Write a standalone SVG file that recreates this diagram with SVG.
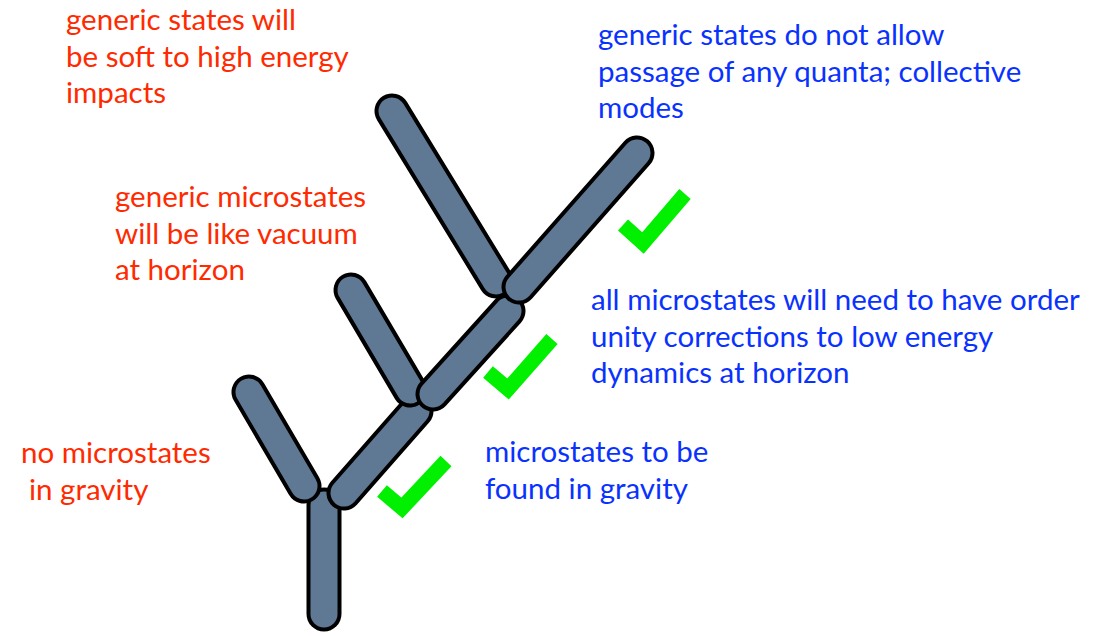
<svg xmlns="http://www.w3.org/2000/svg" width="1109" height="636" viewBox="0 0 1109 636">
<style>
.o{stroke:#000;stroke-width:35;stroke-linecap:round;fill:none}
.f{stroke:#5f7894;stroke-width:27;stroke-linecap:round;fill:none}
.chk{stroke:#00f000;stroke-width:15;fill:none;stroke-linejoin:miter;stroke-linecap:butt}
text{font-family:Lato,"Liberation Sans",sans-serif;font-size:29.5px}
.r{fill:#ff2a00}
.b{fill:#0a32ff}
</style>
<rect width="1109" height="636" fill="#fff"/>
<g id="connectors">
<g id="trunk"><line class="o" x1="324" y1="505" x2="324" y2="614"/><line class="f" x1="324" y1="505" x2="324" y2="614"/></g>
<g id="lower-left"><line class="o" x1="249" y1="392" x2="304" y2="486"/><line class="f" x1="249" y1="392" x2="304" y2="486"/></g>
<g id="lower-right"><line class="o" x1="344" y1="493" x2="416" y2="411"/><line class="f" x1="344" y1="493" x2="416" y2="411"/></g>
<g id="middle-left"><line class="o" x1="351" y1="290" x2="410" y2="390"/><line class="f" x1="351" y1="290" x2="410" y2="390"/></g>
<g id="middle-right"><line class="o" x1="433" y1="394" x2="508" y2="311"/><line class="f" x1="433" y1="394" x2="508" y2="311"/></g>
<g id="upper-left"><line class="o" x1="392" y1="111" x2="496" y2="281"/><line class="f" x1="392" y1="111" x2="496" y2="281"/></g>
<g id="upper-right"><line class="o" x1="519" y1="287" x2="637" y2="153"/><line class="f" x1="519" y1="287" x2="637" y2="153"/></g>
</g>
<g id="checks">
<polyline class="chk" points="623,225 643,243 685,194"/>
<polyline class="chk" points="488,372 508,389 552,339"/>
<polyline class="chk" points="382,491 402,508 446,461"/>
</g>
<g id="label-top-left" class="r">
<text x="66" y="30">generic states will</text>
<text x="66" y="67">be soft to high energy</text>
<text x="66" y="103">impacts</text>
</g>
<g id="label-mid-left" class="r">
<text x="115" y="207">generic microstates</text>
<text x="115" y="244">will be like vacuum</text>
<text x="115" y="280">at horizon</text>
</g>
<g id="label-low-left" class="r">
<text x="21" y="463">no microstates</text>
<text x="29" y="500">in gravity</text>
</g>
<g id="label-top-right" class="b">
<text x="598" y="45">generic states do not allow</text>
<text x="598" y="82">passage of any quanta; collective</text>
<text x="598" y="118">modes</text>
</g>
<g id="label-mid-right" class="b">
<text x="591" y="310">all microstates will need to have order</text>
<text x="591" y="347">unity corrections to low energy</text>
<text x="591" y="383">dynamics at horizon</text>
</g>
<g id="label-low-right" class="b">
<text x="485" y="462">microstates to be</text>
<text x="485" y="499">found in gravity</text>
</g>
</svg>
